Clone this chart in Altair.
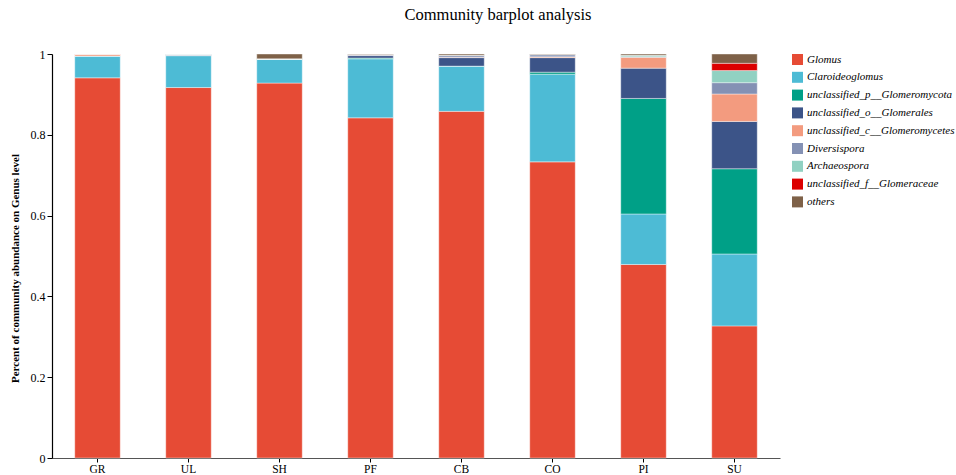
import altair as alt
import pandas as pd

# Samples along the x axis
samples = ["GR", "UL", "SH", "PF", "CB", "CO", "PI", "SU"]

# Genus-level taxa, stacked bottom to top
genera = [
    "Glomus",
    "Claroideoglomus",
    "unclassified_p__Glomeromycota",
    "unclassified_o__Glomerales",
    "unclassified_c__Glomeromycetes",
    "Diversispora",
    "Archaeospora",
    "unclassified_f__Glomeraceae",
    "others",
]

# Relative abundance of each genus per sample (same order as samples)
glomus = [0.941, 0.917, 0.928, 0.842, 0.858, 0.733, 0.479, 0.327]
claroideoglomus = [0.054, 0.079, 0.059, 0.146, 0.112, 0.217, 0.125, 0.178]
unc_p_glomeromycota = [0.000, 0.000, 0.001, 0.002, 0.000, 0.005, 0.286, 0.211]
unc_o_glomerales = [0.000, 0.001, 0.000, 0.006, 0.021, 0.036, 0.075, 0.117]
unc_c_glomeromycetes = [0.005, 0.000, 0.000, 0.001, 0.001, 0.002, 0.027, 0.068]
diversispora = [0.000, 0.002, 0.000, 0.002, 0.004, 0.005, 0.001, 0.028]
archaeospora = [0.000, 0.001, 0.000, 0.000, 0.001, 0.001, 0.004, 0.030]
unc_f_glomeraceae = [0.000, 0.000, 0.000, 0.000, 0.000, 0.000, 0.000, 0.018]
others = [0.000, 0.000, 0.012, 0.001, 0.003, 0.001, 0.003, 0.023]

series = [
    glomus,
    claroideoglomus,
    unc_p_glomeromycota,
    unc_o_glomerales,
    unc_c_glomeromycetes,
    diversispora,
    archaeospora,
    unc_f_glomeraceae,
    others,
]

palette = [
    "#E64B35", "#4DBBD5", "#00A087", "#3C5488", "#F39B7F",
    "#8491B4", "#91D1C2", "#DC0000", "#7E6148",
]

rows = []
for gi, (genus, values) in enumerate(zip(genera, series)):
    for sample, v in zip(samples, values):
        rows.append({"sample": sample, "genus": genus, "value": v, "rank": gi})
df = pd.DataFrame(rows)

SERIF = "Liberation Serif"

chart = (
    alt.Chart(df)
    .mark_bar(stroke="#ffffff", strokeWidth=0.8, strokeOpacity=0.5)
    .encode(
        x=alt.X(
            "sample:N",
            sort=samples,
            title=None,
            scale=alt.Scale(paddingInner=0.5, paddingOuter=0.25),
            axis=alt.Axis(
                labelAngle=0,
                labelFont=SERIF,
                labelFontSize=11.5,
                labelColor="#000000",
                labelPadding=1,
                tickSize=4,
                tickColor="#000000",
                domainColor="#555555",
                domainWidth=1.2,
            ),
        ),
        y=alt.Y(
            "value:Q",
            stack="zero",
            scale=alt.Scale(domain=[0, 1], nice=False),
            title="Percent of community abundance on Genus level",
            axis=alt.Axis(
                values=[0, 0.2, 0.4, 0.6, 0.8, 1],
                format="~g",
                grid=False,
                labelFont=SERIF,
                labelFontSize=12,
                labelColor="#000000",
                tickSize=5,
                tickColor="#000000",
                domainColor="#000000",
                domainWidth=1.2,
                titleFont=SERIF,
                titleFontSize=11,
                titleFontWeight="bold",
                titleColor="#000000",
                titleAngle=270,
                titleX=-37,
                titleY=214,
                titleAlign="center",
                titleBaseline="middle",
            ),
        ),
        color=alt.Color(
            "genus:N",
            sort=genera,
            scale=alt.Scale(domain=genera, range=palette),
            legend=alt.Legend(
                title=None,
                orient="none",
                legendX=740,
                legendY=0,
                padding=0,
                symbolType="square",
                symbolSize=121,
                symbolStrokeWidth=0,
                symbolOpacity=1,
                rowPadding=5.8,
                labelFont=SERIF,
                labelFontSize=11,
                labelFontStyle="italic",
                labelColor="#000000",
                labelOffset=4,
                labelLimit=300,
            ),
        ),
        order=alt.Order("rank:Q", sort="ascending"),
    )
    .properties(
        width=728,
        height=404,
        padding={"left": 52, "top": 54, "right": 176, "bottom": 17},
        autosize=alt.AutoSizeParams(type="none"),
        title=alt.TitleParams(
            "Community barplot analysis",
            font=SERIF,
            fontSize=16.5,
            fontWeight="normal",
            color="#000000",
            anchor="middle",
            dx=82,
            offset=25,
        ),
    )
    .configure_view(stroke=None)
)

chart.save("out.html", embed_options={"renderer": "svg", "actions": False})
